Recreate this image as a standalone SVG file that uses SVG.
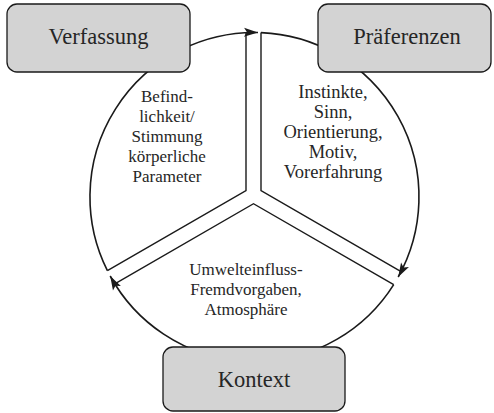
<svg xmlns="http://www.w3.org/2000/svg" width="494" height="413" viewBox="0 0 494 413">
<defs>
<marker id="ah" markerUnits="userSpaceOnUse" markerWidth="18" markerHeight="12" refX="14" refY="4.5" orient="auto" overflow="visible">
<path d="M0,0 L14,4.5 L0,9 L3,4.5 z" fill="#1a1a1a"/>
</marker>
<style>
.bg{fill:#ffffff}
.box{fill:#d3d3d3;stroke:#1a1a1a;stroke-width:1.3}
.arc{fill:none;stroke:#1a1a1a;stroke-width:1.6;marker-end:url(#ah)}
.edge{fill:none;stroke:#1a1a1a;stroke-width:1.4;stroke-linejoin:miter}
.lbl{font-family:"Liberation Serif","Times New Roman",serif;font-size:22.5px;fill:#262626;text-anchor:middle}
.txt{font-family:"Liberation Serif","Times New Roman",serif;font-size:17px;fill:#262626;text-anchor:middle}
.txt2{font-family:"Liberation Serif","Times New Roman",serif;font-size:18.5px;fill:#262626;text-anchor:middle}
</style>
</defs>
<rect class="bg" x="0" y="0" width="494" height="413"/>
<g id="connectors">
<path class="arc" d="M107.4,270.7 A164.5,164.5 0 0 1 258,32.5"/>
<path class="arc" d="M261,32.6 A164.5,164.5 0 0 1 398.2,277"/>
<path class="arc" d="M393.7,284.6 A164.5,164.5 0 0 1 110.2,276"/>
<path class="edge" d="M246,32.7 L246,190.7 L107.4,270.7"/>
<path class="edge" d="M261,32.6 L261,190.7 L401.1,271.6"/>
<path class="edge" d="M393.7,284.6 L253.5,203.7 L114.8,283.8"/>
</g>
<g id="sector-verfassung">
<text class="txt" x="167" y="102">Befind-</text>
<text class="txt" x="167" y="122">lichkeit/</text>
<text class="txt" x="167" y="142">Stimmung</text>
<text class="txt" x="167" y="162">körperliche</text>
<text class="txt" x="167" y="182">Parameter</text>
</g>
<g id="sector-praeferenzen">
<text class="txt2" x="333" y="98">Instinkte,</text>
<text class="txt2" x="333" y="118">Sinn,</text>
<text class="txt2" x="333" y="138">Orientierung,</text>
<text class="txt2" x="333" y="158">Motiv,</text>
<text class="txt2" x="333" y="178">Vorerfahrung</text>
</g>
<g id="sector-kontext">
<text class="txt" x="246" y="275">Umwelteinfluss-</text>
<text class="txt" x="246" y="295">Fremdvorgaben,</text>
<text class="txt" x="246" y="315">Atmosphäre</text>
</g>
<g id="node-verfassung">
<rect class="box" x="7" y="4" width="183" height="68" rx="10"/>
<text class="lbl" x="98.5" y="44">Verfassung</text>
</g>
<g id="node-praeferenzen">
<rect class="box" x="318" y="4" width="173" height="68" rx="10"/>
<text class="lbl" x="407" y="44">Präferenzen</text>
</g>
<g id="node-kontext">
<rect class="box" x="163" y="347" width="182" height="64" rx="10"/>
<text class="lbl" x="254" y="387">Kontext</text>
</g>
</svg>
